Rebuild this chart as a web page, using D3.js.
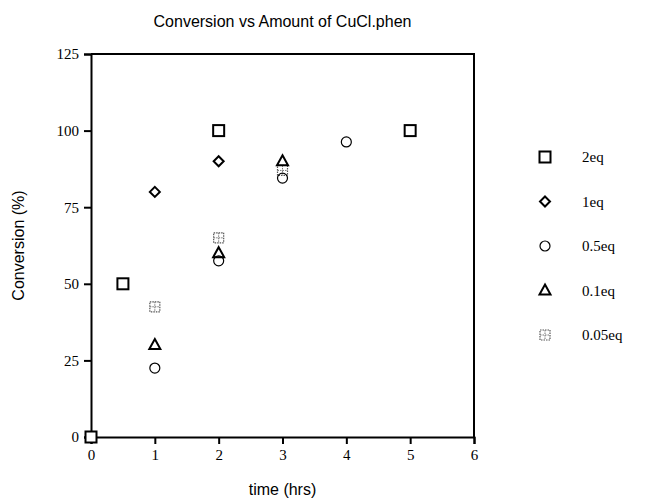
<!DOCTYPE html>
<html>
<head>
<meta charset="utf-8">
<script src="https://cdn.jsdelivr.net/npm/d3@7"></script>
<style>
	body { margin: 0; background: #fff; }
	svg { display: block; }
	.tick text { font-family: "Liberation Serif", "Times New Roman", serif; font-size: 15px; fill: #000; }
	.lbl { font-family: "Liberation Sans", Arial, sans-serif; font-size: 16px; fill: #000; }
	.leg { font-family: "Liberation Serif", "Times New Roman", serif; font-size: 15px; fill: #000; }
</style>
</head>
<body>
<div id="chart"></div>
<script>
// series
const seriesNames = ["2eq", "1eq", "0.5eq", "0.1eq", "0.05eq"];
const eq2 = [[0, 0], [0.5, 50], [2, 100], [5, 100]];
const eq1 = [[1, 80], [2, 90]];
const eq05 = [[1, 22.5], [2, 57.5], [3, 84.5], [4, 96.3]];
const eq01 = [[1, 30], [2, 60], [3, 90]];
const eq005 = [[1, 42.5], [2, 65], [3, 87]];
const xTicks = [0, 1, 2, 3, 4, 5, 6];
const yTicks = [0, 25, 50, 75, 100, 125];

const W = 650, H = 502;
const m = {left: 91, right: 176, top: 54, bottom: 65};

const svg = d3.select("#chart").append("svg").attr("width", W).attr("height", H);

const x = d3.scaleLinear().domain([0, 6]).range([m.left, W - m.right]);
const y = d3.scaleLinear().domain([0, 125]).range([H - m.bottom, m.top]);

// frame (top and right sides)
svg.append("path")
	.attr("d", `M${x(0)},${y(125)}H${x(6)}V${y(0)}`)
	.attr("fill", "none").attr("stroke", "#000").attr("stroke-width", 2);

const xAxis = svg.append("g")
	.attr("transform", `translate(0,${y(0)})`)
	.call(d3.axisBottom(x).tickValues(xTicks).tickSize(7).tickPadding(5).tickFormat(d3.format("d")));
const yAxis = svg.append("g")
	.attr("transform", `translate(${x(0)},0)`)
	.call(d3.axisLeft(y).tickValues(yTicks).tickSize(7).tickPadding(5).tickFormat(d3.format("d")));
[xAxis, yAxis].forEach((a) => {
	a.select(".domain").attr("stroke", "#000").attr("stroke-width", 2);
	a.selectAll(".tick line").attr("stroke", "#000").attr("stroke-width", 2);
});

// marker drawers
const markers = {
	"2eq": (g) => g.append("rect").attr("x", -5.5).attr("y", -5.5).attr("width", 11).attr("height", 11)
		.attr("fill", "#fff").attr("stroke", "#000").attr("stroke-width", 2),
	"1eq": (g) => g.append("path").attr("d", "M0,-5L5,0L0,5L-5,0Z")
		.attr("fill", "#fff").attr("stroke", "#000").attr("stroke-width", 2),
	"0.5eq": (g) => g.append("circle").attr("r", 5)
		.attr("fill", "none").attr("stroke", "#000").attr("stroke-width", 1.2),
	"0.1eq": (g) => g.append("path").attr("d", "M0,-6L5.5,4L-5.5,4Z")
		.attr("fill", "none").attr("stroke", "#000").attr("stroke-width", 2),
	"0.05eq": (g) => {
		g.append("rect").attr("x", -5).attr("y", -5).attr("width", 10).attr("height", 10)
			.attr("fill", "none").attr("stroke", "#555").attr("stroke-width", 1.2)
			.attr("stroke-dasharray", "1.5,1");
		g.append("path").attr("d", "M-5,0H5M0,-5V5")
			.attr("stroke", "#777").attr("stroke-width", 1).attr("stroke-dasharray", "1.5,1");
	},
};

const allSeries = [eq2, eq1, eq05, eq01, eq005];
// draw the light series first so the bold ones sit on top
[4, 2, 3, 1, 0].forEach((i) => {
	const name = seriesNames[i];
	svg.append("g").selectAll("g")
		.data(allSeries[i])
		.join("g")
		.attr("transform", (d) => `translate(${x(d[0])},${y(d[1])})`)
		.each(function () { markers[name](d3.select(this)); });
});

// legend
const legY = d3.scalePoint().domain(seriesNames).range([157, 335]);
const leg = svg.append("g").selectAll("g").data(seriesNames).join("g")
	.attr("transform", (d) => `translate(545,${legY(d)})`);
leg.each(function (d) { markers[d](d3.select(this)); });
leg.append("text").attr("class", "leg").attr("x", 37).attr("dy", "0.35em").text((d) => d);

// titles
svg.append("text").attr("class", "lbl").attr("x", x(3)).attr("y", 27)
	.attr("text-anchor", "middle").text("Conversion vs Amount of CuCl.phen");
svg.append("text").attr("class", "lbl").attr("x", x(3)).attr("y", 495)
	.attr("text-anchor", "middle").text("time (hrs)");
svg.append("text").attr("class", "lbl")
	.attr("transform", `translate(24,${(y(0) + y(125)) / 2})rotate(-90)`)
	.attr("text-anchor", "middle").text("Conversion (%)");
</script>
</body>
</html>
